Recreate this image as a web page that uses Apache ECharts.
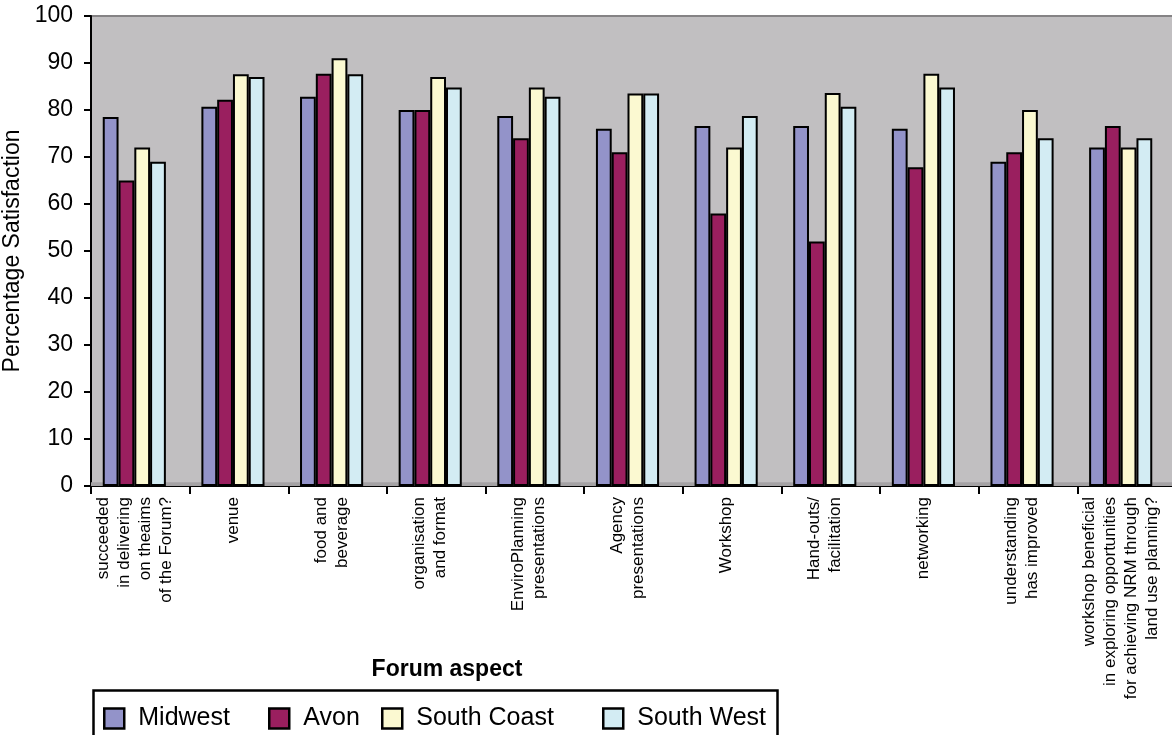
<!DOCTYPE html>
<html>
<head>
<meta charset="utf-8">
<script src="https://cdn.jsdelivr.net/npm/echarts@6/dist/echarts.min.js"></script>
<style>
html,body{margin:0;padding:0;background:#fff;}
#chart{width:1172px;height:735px;}
</style>
</head>
<body>
<div id="chart"></div>
<script>
const categories = [
  "succeeded\nin delivering\non theaims\nof the Forum?",
  "venue",
  "food and\nbeverage",
  "organisation\nand format",
  "EnviroPlanning\npresentations",
  "Agency\npresentations",
  "Workshop",
  "Hand-outs/\nfacilitation",
  "networking",
  "understanding\nhas improved",
  "workshop beneficial\nin exploring opportunities\nfor achieving NRM through\nland use planning?"
];
const seriesNames = ["Midwest", "Avon", "South Coast", "South West"];
const midwest    = [78.5, 80.7, 82.8, 80.0, 78.7, 76.0, 76.6, 76.6, 76.0, 69.0, 72.0];
const avon       = [65.0, 82.2, 87.7, 80.0, 74.0, 71.0, 58.0, 52.0, 67.8, 71.0, 76.6];
const southCoast = [72.0, 87.6, 91.0, 87.0, 84.8, 83.5, 72.0, 83.6, 87.7, 80.0, 72.0];
const southWest  = [69.0, 87.0, 87.6, 84.8, 82.8, 83.5, 78.7, 80.7, 84.8, 74.0, 74.0];
const yTicks = { min: 0, max: 100, interval: 10 };

const colors = ["#9393c9", "#9a1f5f", "#fbf9d1", "#d3ecf3"];
const FONT = "'Liberation Sans', Arial, Helvetica, sans-serif";
const allValues = [midwest, avon, southCoast, southWest];

const chart = echarts.init(document.getElementById('chart'), null, {renderer: 'canvas'});

const barSeries = seriesNames.map((n, i) => ({
  name: n,
  type: 'bar',
  xAxisIndex: 1,
  yAxisIndex: 1,
  data: allValues[i],
  barGap: '0%',
  barCategoryGap: '36%',
  itemStyle: { color: colors[i], borderColor: '#000', borderWidth: 2 },
  emphasis: { disabled: true }
}));

const legendLefts = [103, 268, 381, 602];
const legends = seriesNames.map((n, i) => ({
  data: [n],
  left: legendLefts[i],
  top: 706,
  padding: 0,
  orient: 'horizontal',
  icon: 'rect',
  itemWidth: 20,
  itemHeight: 20,
  selectedMode: false,
  itemStyle: { borderColor: '#000', borderWidth: 2.5 },
  textStyle: { fontFamily: FONT, fontSize: 25, color: '#000', padding: [0, 0, 0, 9] }
}));

chart.setOption({
  animation: false,
  backgroundColor: '#ffffff',
  title: {
    text: 'Forum aspect',
    left: 442,
    top: 653,
    textAlign: 'center',
    textStyle: { fontFamily: FONT, fontSize: 23, fontWeight: 'bold', color: '#000' }
  },
  legend: legends,
  grid: [
    { left: 91, top: 16, width: 1085, bottom: 249, outerBoundsMode: 'none', containLabel: false, show: true, backgroundColor: '#c1bfc1', borderColor: '#858385', borderWidth: 2 },
    { left: 85, top: 16, width: 1085, bottom: 249, outerBoundsMode: 'none', containLabel: false }
  ],
  xAxis: [
    {
      type: 'category', gridIndex: 0, data: categories,
      axisLine: { show: true, lineStyle: { color: '#000', width: 2 } },
      axisTick: { show: true, interval: 0, length: 8, lineStyle: { color: '#000', width: 2 } },
      axisLabel: { show: false, interval: 0 },
      splitLine: { show: false }
    },
    {
      type: 'category', gridIndex: 1, data: categories,
      axisLine: { show: false },
      axisTick: { show: false },
      axisLabel: { show: true, interval: 0, rotate: 90, margin: 11, fontFamily: FONT, fontSize: 17, lineHeight: 21, color: '#000' },
      splitLine: { show: false }
    }
  ],
  yAxis: [
    {
      type: 'value', gridIndex: 0, min: yTicks.min, max: yTicks.max, interval: yTicks.interval,
      name: 'Percentage Satisfaction', nameLocation: 'middle', nameRotate: 90, nameGap: 58,
      nameTextStyle: { fontFamily: FONT, fontSize: 23, color: '#000' },
      axisLine: { show: true, lineStyle: { color: '#000', width: 2 } },
      axisTick: { show: true, length: 7, lineStyle: { color: '#000', width: 2 } },
      axisLabel: { margin: 18, fontFamily: FONT, fontSize: 23, color: '#000' },
      splitLine: { show: false }
    },
    {
      type: 'value', gridIndex: 1, min: yTicks.min, max: yTicks.max, interval: yTicks.interval, show: false,
      splitLine: { show: false }
    }
  ],
  graphic: [{
    type: 'rect',
    left: 91, top: 688,
    shape: { width: 684, height: 70 },
    style: { fill: 'none', stroke: '#000', lineWidth: 2.5 },
    silent: true
  }],
  series: [{
    type: 'line', xAxisIndex: 0, yAxisIndex: 0, data: [], silent: true,
    markArea: { silent: true, itemStyle: { color: '#a4a2a4' }, data: [[{ yAxis: 0 }, { yAxis: 0.8 }]] }
  }].concat(barSeries)
});
</script>
</body>
</html>
